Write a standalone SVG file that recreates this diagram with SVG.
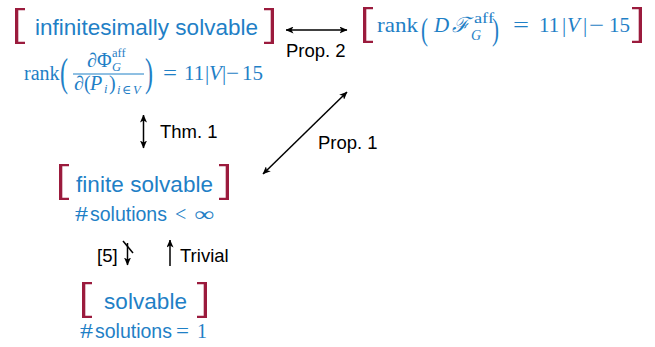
<svg xmlns="http://www.w3.org/2000/svg" width="655" height="347" viewBox="0 0 655 347">
<style>
.b{font-family:"Liberation Sans",Arial,sans-serif;fill:#1f80c6;font-size:22.5px}
.m{font-family:"Liberation Serif","DejaVu Serif",serif;fill:#1f80c6;font-size:20px}
.i{font-style:italic}
.s{font-size:12.5px}
.sn{font-family:"Liberation Sans",Arial,sans-serif;fill:#1f80c6;font-size:19.5px}
.bp{font-family:"Liberation Serif",serif;fill:#1f80c6;font-size:40px}
.l{font-family:"Liberation Sans",Arial,sans-serif;fill:#000;font-size:18.5px}
.c{stroke:#000;stroke-width:1.5;fill:none}
.br{fill:#9b1b3d}
</style>
<defs>
<marker id="ah" markerWidth="8" markerHeight="7" refX="7.5" refY="3.5" orient="auto-start-reverse" markerUnits="userSpaceOnUse"><path d="M0,0 L8,3.5 L0,7 L2,3.5 z" fill="#000"/></marker>
<path id="lb" d="M0,0 H10 V2.2 H3.3 V33.8 H10 V36 H0 Z"/>
<path id="rb" d="M10,0 H0 V2.2 H6.7 V33.8 H0 V36 H10 Z"/>
</defs>
<g id="infinitesimal">
<use href="#lb" class="br" x="15" y="8"/>
<text class="b" x="35" y="35" textLength="223">infinitesimally solvable</text>
<use href="#rb" class="br" x="264" y="8"/>
<text class="m" x="24" y="80">rank</text>
<text class="bp" transform="translate(60,86) scale(0.6,1)">(</text>
<text class="m" x="87" y="67">∂Φ</text>
<text class="m s" x="112" y="57">aff</text>
<text class="m s i" x="112" y="71">G</text>
<line x1="73" y1="74" x2="144" y2="74" stroke="#1f80c6" stroke-width="1"/>
<text class="m" y="90"><tspan x="74">∂</tspan><tspan x="84">(</tspan><tspan x="90" class="i">P</tspan><tspan x="104" class="s i" dy="3">i</tspan><tspan x="109" dy="-3">)</tspan><tspan class="s" dy="4"><tspan x="117" class="i">i</tspan><tspan x="122">∈</tspan><tspan x="133" class="i">V</tspan></tspan></text>
<text class="bp" transform="translate(145,86) scale(0.6,1)">)</text>
<text class="m" x="163" y="80" style="font-size:21px" textLength="14" lengthAdjust="spacingAndGlyphs">=</text>
<text class="m" y="80" style="font-size:21px"><tspan x="184">11</tspan><tspan x="205">|</tspan><tspan x="209" class="i">V</tspan><tspan x="222">|</tspan></text>
<text class="m" x="226" y="80" style="font-size:21px" textLength="13" lengthAdjust="spacingAndGlyphs">−</text>
<text class="m" x="242" y="80" style="font-size:21px">15</text>
</g>
<g id="rank">
<use href="#lb" class="br" x="363" y="7"/>
<text class="m" x="377" y="32" style="font-size:21px" textLength="41" lengthAdjust="spacingAndGlyphs">rank</text>
<text class="bp" transform="translate(421,40) scale(0.55,0.85)" style="font-size:38px">(</text>
<text class="m i" x="434" y="32" style="font-size:21px">D</text>
<text class="m i" x="452" y="32" style="font-size:21px">ℱ</text>
<text class="m s" x="474" y="23" style="font-size:14px" textLength="20" lengthAdjust="spacingAndGlyphs">aff</text>
<text class="m s i" x="471" y="40" style="font-size:14px">G</text>
<text class="bp" transform="translate(492,40) scale(0.55,0.85)" style="font-size:38px">)</text>
<text class="m" x="513" y="32" style="font-size:21px" textLength="16" lengthAdjust="spacingAndGlyphs">=</text>
<text class="m" y="32" style="font-size:21px"><tspan x="539">11</tspan><tspan x="562">|</tspan><tspan x="567" class="i">V</tspan><tspan x="583">|</tspan></text>
<text class="m" x="589" y="32" style="font-size:21px" textLength="15" lengthAdjust="spacingAndGlyphs">−</text>
<text class="m" x="609" y="32" style="font-size:21px">15</text>
<use href="#rb" class="br" x="632" y="7"/>
</g>
<g id="finite">
<use href="#lb" class="br" x="59" y="164"/>
<text class="b" x="76" y="192" textLength="137">finite solvable</text>
<use href="#rb" class="br" x="219" y="164"/>
<text class="m" x="75" y="221" textLength="13" lengthAdjust="spacingAndGlyphs">#</text>
<text class="sn" x="90" y="221">solutions</text>
<text class="m" x="175" y="221">&lt;</text>
<text class="m" x="194" y="221" textLength="20" lengthAdjust="spacingAndGlyphs">∞</text>
</g>
<g id="solvable">
<use href="#lb" class="br" x="82" y="282"/>
<text class="b" x="104" y="309" textLength="83">solvable</text>
<use href="#rb" class="br" x="197" y="282"/>
<text class="m" x="80" y="338" textLength="13" lengthAdjust="spacingAndGlyphs">#</text>
<text class="sn" x="95" y="338">solutions</text>
<text class="m" x="176" y="338" textLength="13" lengthAdjust="spacingAndGlyphs">=</text>
<text class="m" x="197" y="338">1</text>
</g>
<g id="connectors">
<line class="c" x1="286" y1="30" x2="347" y2="30" marker-start="url(#ah)" marker-end="url(#ah)"/>
<text class="l" x="286" y="57">Prop. 2</text>
<line class="c" x1="347" y1="92" x2="263" y2="174" marker-start="url(#ah)" marker-end="url(#ah)"/>
<text class="l" x="318" y="149">Prop. 1</text>
<line class="c" x1="143.5" y1="115" x2="143.5" y2="148" marker-start="url(#ah)" marker-end="url(#ah)"/>
<text class="l" x="160" y="138">Thm. 1</text>
<line class="c" x1="127.5" y1="243" x2="127.5" y2="265" marker-end="url(#ah)"/>
<line class="c" x1="123" y1="241" x2="133" y2="253"/>
<text class="l" x="97" y="262">[5]</text>
<line class="c" x1="170" y1="266" x2="170" y2="240" marker-end="url(#ah)"/>
<text class="l" x="180" y="262">Trivial</text>
</g>
</svg>
